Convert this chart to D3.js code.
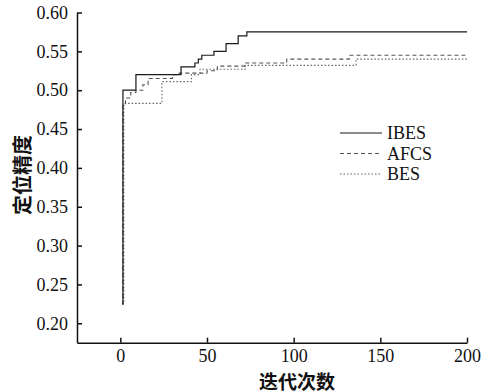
<!DOCTYPE html>
<html><head><meta charset="utf-8">
<script src="https://cdn.jsdelivr.net/npm/d3@7"></script>
<style>body{margin:0;background:#fff}</style>
</head><body>
<svg id="c" width="486" height="392"></svg>
<script>
// data (iteration, value) change points for step curves
const ibesIter = [1, 1.5, 9, 35, 43, 45, 47, 54, 61, 68, 73, 200];
const ibesVal  = [0.225, 0.50, 0.52, 0.53, 0.535, 0.54, 0.545, 0.55, 0.56, 0.57, 0.575, 0.575];
const afcsIter = [1, 1.5, 3, 6, 9, 13, 16, 30, 34, 50, 56, 72, 96, 132, 200];
const afcsVal  = [0.225, 0.48, 0.49, 0.497, 0.50, 0.507, 0.515, 0.52, 0.522, 0.525, 0.531, 0.535, 0.54, 0.545, 0.545];
const besIter  = [1, 2, 24, 41, 46, 72, 136, 200];
const besVal   = [0.225, 0.483, 0.511, 0.52, 0.527, 0.532, 0.54, 0.54];
const xTicks = [0, 50, 100, 150, 200];
const yTicks = [0.20, 0.25, 0.30, 0.35, 0.40, 0.45, 0.50, 0.55, 0.60];
const seriesNames = ["IBES", "AFCS", "BES"];
const xTitle = "迭代次数";
const yTitle = "定位精度";

const svg = d3.select("#c");
const x = d3.scaleLinear().domain([-25, 200]).range([77, 467]);
const y = d3.scaleLinear().domain([0.175, 0.60]).range([342.7, 12.5]);
const font = "'Liberation Serif','Times New Roman',serif";

const xAxis = svg.append("g").attr("transform", "translate(0,342.7)")
  .call(d3.axisBottom(x).tickValues(xTicks).tickFormat(d3.format("d")).tickSizeInner(-5).tickSizeOuter(0).tickPadding(7));
const yAxis = svg.append("g").attr("transform", "translate(77,0)")
  .call(d3.axisLeft(y).tickValues(yTicks).tickFormat(d3.format(".2f")).tickSizeInner(-5).tickSizeOuter(0).tickPadding(9));
[xAxis, yAxis].forEach(g => {
  g.selectAll("path.domain").attr("stroke", "#111").attr("stroke-width", 1.5);
  g.selectAll(".tick line").attr("stroke", "#111").attr("stroke-width", 1.5);
  g.selectAll("text").attr("font-family", font).attr("font-size", 18).attr("fill", "#111");
});

const styles = [
  {stroke: "#1a1a1a", width: 1.2, dash: null},
  {stroke: "#555", width: 1.1, dash: "4,3"},
  {stroke: "#666", width: 1.1, dash: "1.5,2"}
];
const data = [
  ibesIter.map((d, i) => [d, ibesVal[i]]),
  afcsIter.map((d, i) => [d, afcsVal[i]]),
  besIter.map((d, i) => [d, besVal[i]])
];
const line = d3.line().x(d => x(d[0])).y(d => y(d[1])).curve(d3.curveStepAfter);
// draw dotted first, solid last
[2, 1, 0].forEach(i => {
  svg.append("path").datum(data[i]).attr("d", line)
    .attr("fill", "none").attr("stroke", styles[i].stroke)
    .attr("stroke-width", styles[i].width)
    .attr("stroke-dasharray", styles[i].dash);
});

// legend
const legY = [133, 153.5, 174];
seriesNames.forEach((n, i) => {
  svg.append("line").attr("x1", 340).attr("x2", 382).attr("y1", legY[i]).attr("y2", legY[i])
    .attr("stroke", styles[i].stroke).attr("stroke-width", styles[i].width)
    .attr("stroke-dasharray", styles[i].dash);
  svg.append("text").attr("x", 387).attr("y", legY[i]).attr("dy", "0.35em")
    .attr("font-family", font).attr("font-size", 18).attr("fill", "#111").text(n);
});

// axis titles
svg.append("text").attr("x", 297).attr("y", 380).attr("text-anchor", "middle")
  .attr("dominant-baseline", "central")
  .attr("font-family", "'Noto Sans CJK SC',sans-serif").attr("font-weight", "bold")
  .attr("font-size", 19).attr("fill", "#111").text(xTitle);
svg.append("text").attr("transform", "translate(21,175) rotate(-90)").attr("text-anchor", "middle")
  .attr("dominant-baseline", "central")
  .attr("font-family", "'Noto Sans CJK SC',sans-serif").attr("font-weight", "bold")
  .attr("font-size", 20).attr("fill", "#111").text(yTitle);
</script>
</body></html>
